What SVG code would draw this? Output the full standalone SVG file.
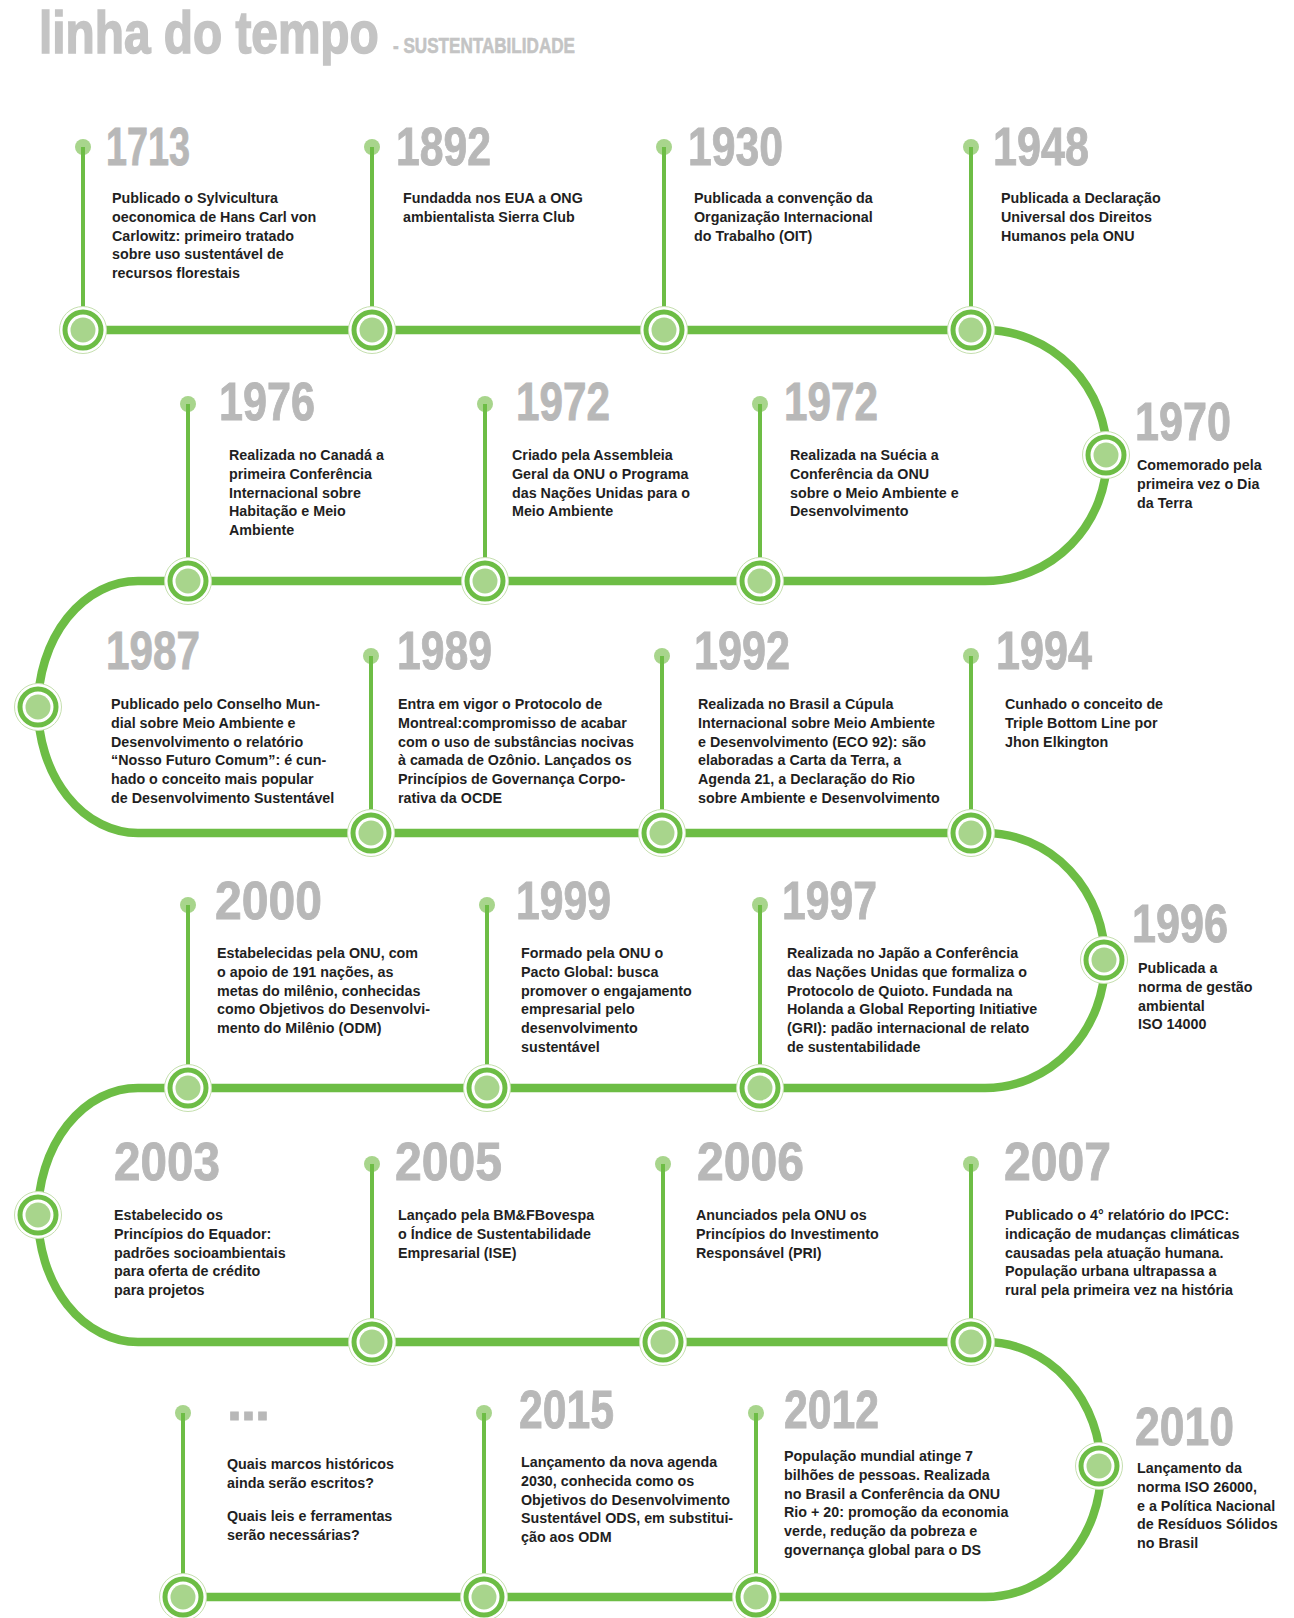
<svg xmlns="http://www.w3.org/2000/svg" xmlns:xlink="http://www.w3.org/1999/xlink" width="1294" height="1618" viewBox="0 0 1294 1618">
<style>
.title{font-family:"Liberation Sans",Arial,sans-serif;font-weight:bold;fill:#c4c4c4;stroke:#c4c4c4}
.yr{font-family:"Liberation Sans",Arial,sans-serif;font-weight:bold;font-size:54px;fill:#b8b8b8;stroke:#b8b8b8;stroke-width:0.9}
.d{font-family:"Liberation Sans",Arial,sans-serif;font-weight:bold;font-size:14.3px;fill:#1f1f1f}
.stem{stroke:#6dbd45;stroke-width:4}
.dot{fill:#a8d58c}
.track{fill:none;stroke:#6dbd45;stroke-width:8.5}
</style>
<defs>
<g id="bc"><circle r="23.5" fill="#fff" stroke="#c5dfae" stroke-width="1"/><circle r="18" fill="#fff" stroke="#6dbd45" stroke-width="5"/><circle r="12.5" fill="#a8d58c"/></g>
</defs>
<rect width="1294" height="1618" fill="#fff"/>
<g id="title">
<text class="title" transform="translate(39,53) scale(0.81,1)" x="0" y="0" font-size="59" stroke-width="1.6">linha do tempo</text>
<text class="title" x="393" y="53" font-size="22.5" stroke-width="0.6" textLength="182" lengthAdjust="spacingAndGlyphs">- SUSTENTABILIDADE</text>
</g>
<g id="connectors">
<path class="track" d="M 83 330 H 985 A 122 125.5 0 0 1 985 581 H 138 A 100 126 0 0 0 138 833 H 985 A 120 127.5 0 0 1 985 1088 H 138 A 100 127 0 0 0 138 1342 H 985 A 116 127.5 0 0 1 985 1597 H 183"/>
</g>

<g id="n1713">
<circle class="dot" cx="83" cy="147" r="8"/><line class="stem" x1="83" y1="147" x2="83" y2="330"/><use xlink:href="#bc" x="83" y="330"/>
<text class="yr" x="106" y="165" textLength="84" lengthAdjust="spacingAndGlyphs">1713</text>
<text class="d" y="203"><tspan x="112">Publicado o Sylvicultura</tspan><tspan x="112" dy="18.8">oeconomica de Hans Carl von</tspan><tspan x="112" dy="18.8">Carlowitz: primeiro tratado</tspan><tspan x="112" dy="18.8">sobre uso sustentável de</tspan><tspan x="112" dy="18.8">recursos florestais</tspan></text>
</g>
<g id="n1892">
<circle class="dot" cx="372" cy="147" r="8"/><line class="stem" x1="372" y1="147" x2="372" y2="330"/><use xlink:href="#bc" x="372" y="330"/>
<text class="yr" x="396" y="165" textLength="95" lengthAdjust="spacingAndGlyphs">1892</text>
<text class="d" y="203"><tspan x="403">Fundadda nos EUA a ONG</tspan><tspan x="403" dy="18.8">ambientalista Sierra Club</tspan></text>
</g>
<g id="n1930">
<circle class="dot" cx="664" cy="147" r="8"/><line class="stem" x1="664" y1="147" x2="664" y2="330"/><use xlink:href="#bc" x="664" y="330"/>
<text class="yr" x="688" y="165" textLength="95" lengthAdjust="spacingAndGlyphs">1930</text>
<text class="d" y="203"><tspan x="694">Publicada a convenção da</tspan><tspan x="694" dy="18.8">Organização Internacional</tspan><tspan x="694" dy="18.8">do Trabalho (OIT)</tspan></text>
</g>
<g id="n1948">
<circle class="dot" cx="971" cy="147" r="8"/><line class="stem" x1="971" y1="147" x2="971" y2="330"/><use xlink:href="#bc" x="971" y="330"/>
<text class="yr" x="993" y="165" textLength="96" lengthAdjust="spacingAndGlyphs">1948</text>
<text class="d" y="203"><tspan x="1001">Publicada a Declaração</tspan><tspan x="1001" dy="18.8">Universal dos Direitos</tspan><tspan x="1001" dy="18.8">Humanos pela ONU</tspan></text>
</g>

<g id="n1970">
<use xlink:href="#bc" x="1106" y="455"/>
<text class="yr" x="1135" y="440" textLength="96" lengthAdjust="spacingAndGlyphs">1970</text>
<text class="d" y="470"><tspan x="1137">Comemorado pela</tspan><tspan x="1137" dy="18.8">primeira vez o Dia</tspan><tspan x="1137" dy="18.8">da Terra</tspan></text>
</g>
<g id="n1972b">
<circle class="dot" cx="760" cy="404" r="8"/><line class="stem" x1="760" y1="404" x2="760" y2="581"/><use xlink:href="#bc" x="760" y="581"/>
<text class="yr" x="784" y="420" textLength="94" lengthAdjust="spacingAndGlyphs">1972</text>
<text class="d" y="460"><tspan x="790">Realizada na Suécia a</tspan><tspan x="790" dy="18.8">Conferência da ONU</tspan><tspan x="790" dy="18.8">sobre o Meio Ambiente e</tspan><tspan x="790" dy="18.8">Desenvolvimento</tspan></text>
</g>
<g id="n1972a">
<circle class="dot" cx="485" cy="404" r="8"/><line class="stem" x1="485" y1="404" x2="485" y2="581"/><use xlink:href="#bc" x="485" y="581"/>
<text class="yr" x="516" y="420" textLength="94" lengthAdjust="spacingAndGlyphs">1972</text>
<text class="d" y="460"><tspan x="512">Criado pela Assembleia</tspan><tspan x="512" dy="18.8">Geral da ONU o Programa</tspan><tspan x="512" dy="18.8">das Nações Unidas para o</tspan><tspan x="512" dy="18.8">Meio Ambiente</tspan></text>
</g>
<g id="n1976">
<circle class="dot" cx="188" cy="404" r="8"/><line class="stem" x1="188" y1="404" x2="188" y2="581"/><use xlink:href="#bc" x="188" y="581"/>
<text class="yr" x="219" y="420" textLength="96" lengthAdjust="spacingAndGlyphs">1976</text>
<text class="d" y="460"><tspan x="229">Realizada no Canadá a</tspan><tspan x="229" dy="18.8">primeira Conferência</tspan><tspan x="229" dy="18.8">Internacional sobre</tspan><tspan x="229" dy="18.8">Habitação e Meio</tspan><tspan x="229" dy="18.8">Ambiente</tspan></text>
</g>

<g id="n1987">
<use xlink:href="#bc" x="38" y="707"/>
<text class="yr" x="106" y="669" textLength="94" lengthAdjust="spacingAndGlyphs">1987</text>
<text class="d" y="709"><tspan x="111">Publicado pelo Conselho Mun-</tspan><tspan x="111" dy="18.8">dial sobre Meio Ambiente e</tspan><tspan x="111" dy="18.8">Desenvolvimento o relatório</tspan><tspan x="111" dy="18.8">“Nosso Futuro Comum”: é cun-</tspan><tspan x="111" dy="18.8">hado  o conceito mais popular</tspan><tspan x="111" dy="18.8">de Desenvolvimento Sustentável</tspan></text>
</g>
<g id="n1989">
<circle class="dot" cx="371" cy="656" r="8"/><line class="stem" x1="371" y1="656" x2="371" y2="833"/><use xlink:href="#bc" x="371" y="833"/>
<text class="yr" x="397" y="669" textLength="95" lengthAdjust="spacingAndGlyphs">1989</text>
<text class="d" y="709"><tspan x="398">Entra em vigor o Protocolo de</tspan><tspan x="398" dy="18.8">Montreal:compromisso de acabar</tspan><tspan x="398" dy="18.8">com o uso de substâncias nocivas</tspan><tspan x="398" dy="18.8">à camada de Ozônio. Lançados os</tspan><tspan x="398" dy="18.8">Princípios de Governança Corpo-</tspan><tspan x="398" dy="18.8">rativa da OCDE</tspan></text>
</g>
<g id="n1992">
<circle class="dot" cx="662" cy="656" r="8"/><line class="stem" x1="662" y1="656" x2="662" y2="833"/><use xlink:href="#bc" x="662" y="833"/>
<text class="yr" x="694" y="669" textLength="96" lengthAdjust="spacingAndGlyphs">1992</text>
<text class="d" y="709"><tspan x="698">Realizada no Brasil a Cúpula</tspan><tspan x="698" dy="18.8">Internacional sobre Meio Ambiente</tspan><tspan x="698" dy="18.8">e Desenvolvimento (ECO 92): são</tspan><tspan x="698" dy="18.8">elaboradas a Carta da Terra, a</tspan><tspan x="698" dy="18.8">Agenda 21, a Declaração do Rio</tspan><tspan x="698" dy="18.8">sobre Ambiente e Desenvolvimento</tspan></text>
</g>
<g id="n1994">
<circle class="dot" cx="971" cy="656" r="8"/><line class="stem" x1="971" y1="656" x2="971" y2="833"/><use xlink:href="#bc" x="971" y="833"/>
<text class="yr" x="996" y="669" textLength="96" lengthAdjust="spacingAndGlyphs">1994</text>
<text class="d" y="709"><tspan x="1005">Cunhado o conceito de</tspan><tspan x="1005" dy="18.8">Triple Bottom Line por</tspan><tspan x="1005" dy="18.8">Jhon Elkington</tspan></text>
</g>

<g id="n1996">
<use xlink:href="#bc" x="1104" y="960"/>
<text class="yr" x="1132" y="942" textLength="96" lengthAdjust="spacingAndGlyphs">1996</text>
<text class="d" y="973"><tspan x="1138">Publicada a</tspan><tspan x="1138" dy="18.8">norma de gestão</tspan><tspan x="1138" dy="18.8">ambiental</tspan><tspan x="1138" dy="18.8">ISO 14000</tspan></text>
</g>
<g id="n1997">
<circle class="dot" cx="760" cy="905" r="8"/><line class="stem" x1="760" y1="905" x2="760" y2="1088"/><use xlink:href="#bc" x="760" y="1088"/>
<text class="yr" x="782" y="919" textLength="95" lengthAdjust="spacingAndGlyphs">1997</text>
<text class="d" y="958"><tspan x="787">Realizada no Japão a Conferência</tspan><tspan x="787" dy="18.8">das Nações Unidas que formaliza o</tspan><tspan x="787" dy="18.8">Protocolo de Quioto. Fundada na</tspan><tspan x="787" dy="18.8">Holanda a Global Reporting Initiative</tspan><tspan x="787" dy="18.8">(GRI): padão internacional de relato</tspan><tspan x="787" dy="18.8">de sustentabilidade</tspan></text>
</g>
<g id="n1999">
<circle class="dot" cx="487" cy="905" r="8"/><line class="stem" x1="487" y1="905" x2="487" y2="1088"/><use xlink:href="#bc" x="487" y="1088"/>
<text class="yr" x="516" y="919" textLength="95" lengthAdjust="spacingAndGlyphs">1999</text>
<text class="d" y="958"><tspan x="521">Formado pela ONU o</tspan><tspan x="521" dy="18.8">Pacto Global: busca</tspan><tspan x="521" dy="18.8">promover o engajamento</tspan><tspan x="521" dy="18.8">empresarial pelo</tspan><tspan x="521" dy="18.8">desenvolvimento</tspan><tspan x="521" dy="18.8">sustentável</tspan></text>
</g>
<g id="n2000">
<circle class="dot" cx="188" cy="905" r="8"/><line class="stem" x1="188" y1="905" x2="188" y2="1088"/><use xlink:href="#bc" x="188" y="1088"/>
<text class="yr" x="215" y="919" textLength="107" lengthAdjust="spacingAndGlyphs">2000</text>
<text class="d" y="958"><tspan x="217">Estabelecidas pela ONU, com</tspan><tspan x="217" dy="18.8">o apoio de 191 nações, as</tspan><tspan x="217" dy="18.8">metas do milênio, conhecidas</tspan><tspan x="217" dy="18.8">como Objetivos do Desenvolvi-</tspan><tspan x="217" dy="18.8">mento do Milênio (ODM)</tspan></text>
</g>

<g id="n2003">
<use xlink:href="#bc" x="38" y="1215"/>
<text class="yr" x="114" y="1180" textLength="106" lengthAdjust="spacingAndGlyphs">2003</text>
<text class="d" y="1220"><tspan x="114">Estabelecido os</tspan><tspan x="114" dy="18.8">Princípios do Equador:</tspan><tspan x="114" dy="18.8">padrões socioambientais</tspan><tspan x="114" dy="18.8">para oferta de crédito</tspan><tspan x="114" dy="18.8">para projetos</tspan></text>
</g>
<g id="n2005">
<circle class="dot" cx="372" cy="1164" r="8"/><line class="stem" x1="372" y1="1164" x2="372" y2="1342"/><use xlink:href="#bc" x="372" y="1342"/>
<text class="yr" x="395" y="1180" textLength="107" lengthAdjust="spacingAndGlyphs">2005</text>
<text class="d" y="1220"><tspan x="398">Lançado pela BM&amp;FBovespa</tspan><tspan x="398" dy="18.8">o Índice de Sustentabilidade</tspan><tspan x="398" dy="18.8">Empresarial (ISE)</tspan></text>
</g>
<g id="n2006">
<circle class="dot" cx="663" cy="1164" r="8"/><line class="stem" x1="663" y1="1164" x2="663" y2="1342"/><use xlink:href="#bc" x="663" y="1342"/>
<text class="yr" x="697" y="1180" textLength="107" lengthAdjust="spacingAndGlyphs">2006</text>
<text class="d" y="1220"><tspan x="696">Anunciados pela ONU os</tspan><tspan x="696" dy="18.8">Princípios do Investimento</tspan><tspan x="696" dy="18.8">Responsável (PRI)</tspan></text>
</g>
<g id="n2007">
<circle class="dot" cx="971" cy="1164" r="8"/><line class="stem" x1="971" y1="1164" x2="971" y2="1342"/><use xlink:href="#bc" x="971" y="1342"/>
<text class="yr" x="1004" y="1180" textLength="107" lengthAdjust="spacingAndGlyphs">2007</text>
<text class="d" y="1220"><tspan x="1005">Publicado o 4° relatório do IPCC:</tspan><tspan x="1005" dy="18.8">indicação de mudanças climáticas</tspan><tspan x="1005" dy="18.8">causadas pela atuação humana.</tspan><tspan x="1005" dy="18.8">População urbana ultrapassa a</tspan><tspan x="1005" dy="18.8">rural pela primeira vez na história</tspan></text>
</g>

<g id="n2010">
<use xlink:href="#bc" x="1099" y="1466"/>
<text class="yr" x="1135" y="1445" textLength="99" lengthAdjust="spacingAndGlyphs">2010</text>
<text class="d" y="1473"><tspan x="1137">Lançamento da</tspan><tspan x="1137" dy="18.8">norma ISO 26000,</tspan><tspan x="1137" dy="18.8">e a Política Nacional</tspan><tspan x="1137" dy="18.8">de Resíduos Sólidos</tspan><tspan x="1137" dy="18.8">no Brasil</tspan></text>
</g>
<g id="n2012">
<circle class="dot" cx="756" cy="1413" r="8"/><line class="stem" x1="756" y1="1413" x2="756" y2="1597"/><use xlink:href="#bc" x="756" y="1597"/>
<text class="yr" x="784" y="1428" textLength="95" lengthAdjust="spacingAndGlyphs">2012</text>
<text class="d" y="1461"><tspan x="784">População mundial atinge 7</tspan><tspan x="784" dy="18.8">bilhões de pessoas. Realizada</tspan><tspan x="784" dy="18.8">no Brasil a Conferência da ONU</tspan><tspan x="784" dy="18.8">Rio + 20:  promoção da economia</tspan><tspan x="784" dy="18.8">verde, redução da pobreza e</tspan><tspan x="784" dy="18.8">governança global para o DS</tspan></text>
</g>
<g id="n2015">
<circle class="dot" cx="484" cy="1413" r="8"/><line class="stem" x1="484" y1="1413" x2="484" y2="1597"/><use xlink:href="#bc" x="484" y="1597"/>
<text class="yr" x="519" y="1428" textLength="95" lengthAdjust="spacingAndGlyphs">2015</text>
<text class="d" y="1467"><tspan x="521">Lançamento da nova agenda</tspan><tspan x="521" dy="18.8">2030, conhecida como os</tspan><tspan x="521" dy="18.8">Objetivos do Desenvolvimento</tspan><tspan x="521" dy="18.8">Sustentável ODS, em substitui-</tspan><tspan x="521" dy="18.8">ção aos ODM</tspan></text>
</g>
<g id="nfuture">
<circle class="dot" cx="183" cy="1413" r="8"/><line class="stem" x1="183" y1="1413" x2="183" y2="1597"/><use xlink:href="#bc" x="183" y="1597"/>
<text class="yr" x="227" y="1420" font-size="62" textLength="43" lengthAdjust="spacing">...</text>
<text class="d"><tspan x="227" y="1469">Quais marcos históricos</tspan><tspan x="227" y="1488">ainda serão escritos?</tspan><tspan x="227" y="1521">Quais leis e ferramentas</tspan><tspan x="227" y="1540">serão necessárias?</tspan></text>
</g>
</svg>
